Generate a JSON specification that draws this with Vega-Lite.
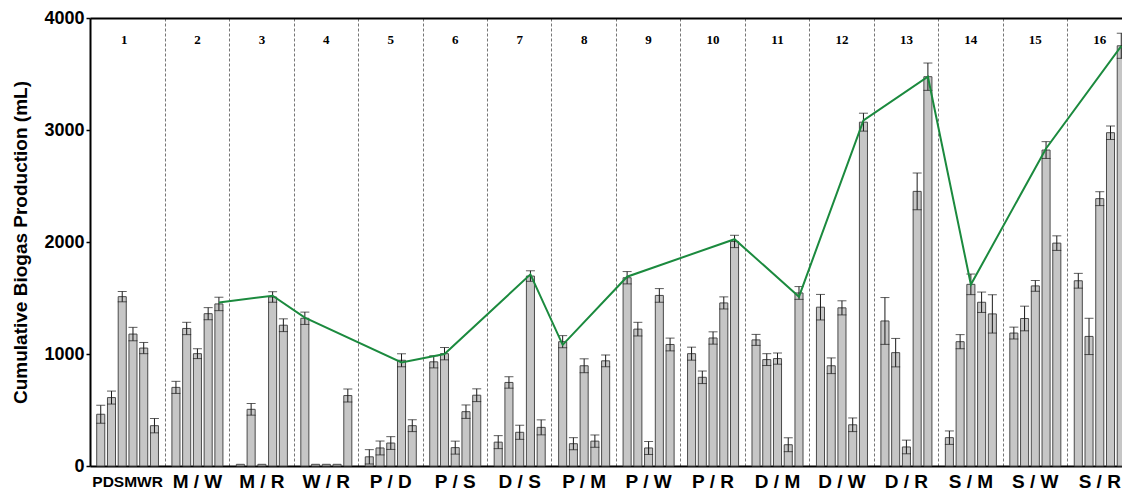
{
  "$schema": "https://vega.github.io/schema/vega-lite/v6.json",
  "width": 1032,
  "height": 448,
  "autosize": {"type": "none"},
  "padding": {"left": 90, "right": 0, "top": 18, "bottom": 27},
  "background": "white",
  "config": {"view": {"stroke": null}},
  "datasets": {
    "bars": [
      {"g":1,"cat":"1P","v":462,"e":80},{"g":1,"cat":"1D","v":611,"e":58},{"g":1,"cat":"1S","v":1512,"e":46},{"g":1,"cat":"1M","v":1178,"e":60},{"g":1,"cat":"1W","v":1053,"e":50},{"g":1,"cat":"1R","v":360,"e":64},
      {"g":2,"cat":"2-1","v":702,"e":54},{"g":2,"cat":"2-2","v":1228,"e":55},{"g":2,"cat":"2-3","v":1003,"e":44},{"g":2,"cat":"2-4","v":1360,"e":54},{"g":2,"cat":"2-5","v":1447,"e":60},
      {"g":3,"cat":"3-1","v":15,"e":0},{"g":3,"cat":"3-2","v":506,"e":52},{"g":3,"cat":"3-3","v":15,"e":0},{"g":3,"cat":"3-4","v":1509,"e":47},{"g":3,"cat":"3-5","v":1257,"e":57},
      {"g":4,"cat":"4-1","v":1319,"e":55},{"g":4,"cat":"4-2","v":15,"e":0},{"g":4,"cat":"4-3","v":15,"e":0},{"g":4,"cat":"4-4","v":15,"e":0},{"g":4,"cat":"4-5","v":629,"e":58},
      {"g":5,"cat":"5-1","v":82,"e":64},{"g":5,"cat":"5-2","v":161,"e":62},{"g":5,"cat":"5-3","v":205,"e":57},{"g":5,"cat":"5-4","v":944,"e":58},{"g":5,"cat":"5-5","v":360,"e":53},
      {"g":6,"cat":"6-1","v":930,"e":54},{"g":6,"cat":"6-2","v":1003,"e":55},{"g":6,"cat":"6-3","v":164,"e":58},{"g":6,"cat":"6-4","v":485,"e":60},{"g":6,"cat":"6-5","v":632,"e":57},
      {"g":7,"cat":"7-1","v":213,"e":58},{"g":7,"cat":"7-2","v":746,"e":51},{"g":7,"cat":"7-3","v":301,"e":63},{"g":7,"cat":"7-4","v":1696,"e":47},{"g":7,"cat":"7-5","v":345,"e":67},
      {"g":8,"cat":"8-1","v":1110,"e":54},{"g":8,"cat":"8-2","v":199,"e":54},{"g":8,"cat":"8-3","v":895,"e":62},{"g":8,"cat":"8-4","v":222,"e":55},{"g":8,"cat":"8-5","v":939,"e":53},
      {"g":9,"cat":"9-1","v":1681,"e":55},{"g":9,"cat":"9-2","v":1222,"e":61},{"g":9,"cat":"9-3","v":161,"e":58},{"g":9,"cat":"9-4","v":1523,"e":61},{"g":9,"cat":"9-5","v":1085,"e":57},
      {"g":10,"cat":"10-1","v":1003,"e":58},{"g":10,"cat":"10-2","v":792,"e":56},{"g":10,"cat":"10-3","v":1143,"e":55},{"g":10,"cat":"10-4","v":1456,"e":54},{"g":10,"cat":"10-5","v":2005,"e":55},
      {"g":11,"cat":"11-1","v":1126,"e":49},{"g":11,"cat":"11-2","v":950,"e":53},{"g":11,"cat":"11-3","v":959,"e":50},{"g":11,"cat":"11-4","v":190,"e":62},{"g":11,"cat":"11-5","v":1545,"e":57},
      {"g":12,"cat":"12-1","v":1418,"e":114},{"g":12,"cat":"12-2","v":895,"e":70},{"g":12,"cat":"12-3","v":1412,"e":63},{"g":12,"cat":"12-4","v":368,"e":61},{"g":12,"cat":"12-5","v":3070,"e":80},
      {"g":13,"cat":"13-1","v":1295,"e":209},{"g":13,"cat":"13-2","v":1012,"e":127},{"g":13,"cat":"13-3","v":170,"e":61},{"g":13,"cat":"13-4","v":2452,"e":164},{"g":13,"cat":"13-5","v":3476,"e":122},
      {"g":14,"cat":"14-1","v":253,"e":60},{"g":14,"cat":"14-2","v":1110,"e":63},{"g":14,"cat":"14-3","v":1622,"e":92},{"g":14,"cat":"14-4","v":1462,"e":91},{"g":14,"cat":"14-5","v":1358,"e":171},
      {"g":15,"cat":"15-1","v":1187,"e":53},{"g":15,"cat":"15-2","v":1317,"e":110},{"g":15,"cat":"15-3","v":1608,"e":48},{"g":15,"cat":"15-4","v":2821,"e":75},{"g":15,"cat":"15-5","v":1990,"e":65},
      {"g":16,"cat":"16-1","v":1654,"e":66},{"g":16,"cat":"16-2","v":1157,"e":162},{"g":16,"cat":"16-3","v":2387,"e":62},{"g":16,"cat":"16-4","v":2976,"e":60},{"g":16,"cat":"16-5","v":3752,"e":112}
    ],
    "line": [
      {"g":2,"cat":"2-5","v":1460},{"g":3,"cat":"3-4","v":1520},{"g":4,"cat":"4-1","v":1325},{"g":5,"cat":"5-4","v":925},
      {"g":6,"cat":"6-2","v":1000},{"g":7,"cat":"7-4","v":1711},{"g":8,"cat":"8-1","v":1082},{"g":9,"cat":"9-1","v":1690},
      {"g":10,"cat":"10-5","v":2025},{"g":11,"cat":"11-5","v":1512},{"g":12,"cat":"12-5","v":3085},{"g":13,"cat":"13-5","v":3476},
      {"g":14,"cat":"14-3","v":1620},{"g":15,"cat":"15-4","v":2835},{"g":16,"cat":"16-5","v":3750}
    ]
  },
  "resolve": {"axis": {"x": "independent"}},
  "layer": [
    {
      "data": {"name": "bars"},
      "mark": {"type": "bar", "fill": "#c6c6c6", "stroke": "#4a4a4a", "strokeWidth": 1},
      "encoding": {
        "x": {
          "field": "cat", "type": "nominal", "sort": null,
          "scale": {
            "domain": ["1P","1D","1S","1M","1W","1R","g1","2-1","2-2","2-3","2-4","2-5","g2","3-1","3-2","3-3","3-4","3-5","g3","4-1","4-2","4-3","4-4","4-5","g4","5-1","5-2","5-3","5-4","5-5","g5","6-1","6-2","6-3","6-4","6-5","g6","7-1","7-2","7-3","7-4","7-5","g7","8-1","8-2","8-3","8-4","8-5","g8","9-1","9-2","9-3","9-4","9-5","g9","10-1","10-2","10-3","10-4","10-5","g10","11-1","11-2","11-3","11-4","11-5","g11","12-1","12-2","12-3","12-4","12-5","g12","13-1","13-2","13-3","13-4","13-5","g13","14-1","14-2","14-3","14-4","14-5","g14","15-1","15-2","15-3","15-4","15-5","g15","16-1","16-2","16-3","16-4","16-5"],
            "range": [0, 1042], "paddingInner": 0.25, "paddingOuter": 0.625
          },
          "axis": {
            "orient": "bottom", "title": null, "ticks": false, "domain": true,
            "domainColor": "black", "domainWidth": 2,
            "labelExpr": "datum.value == '1S' ? 'PDSMWR' : (slice(datum.value, -2) == '-3' ? ['','','M / W','M / R','W / R','P / D','P / S','D / S','P / M','P / W','P / R','D / M','D / W','D / R','S / M','S / W','S / R'][toNumber(split(datum.value, '-')[0])] : '')",
            "labelAngle": 0, "labelFont": "Liberation Sans", "labelFontWeight": "bold",
            "labelFontSize": {"condition": {"test": "datum.value == '1S'", "value": 15.5}, "value": 19},
            "labelOffset": {"condition": {"test": "datum.value == '1S'", "value": 5.4}, "value": 0},
            "labelPadding": 15, "labelBaseline": "middle", "labelColor": "black",
            "labelOverlap": false, "labelBound": false,
            "grid": true, "gridColor": "#777777", "gridDash": [3, 2], "gridWidth": 1,
            "gridOpacity": {"condition": {"test": "indexof(datum.value, 'g') == 0", "value": 1}, "value": 0}
          }
        },
        "y": {
          "field": "v", "type": "quantitative",
          "scale": {"domain": [0, 4000], "nice": false},
          "axis": {
            "values": [0, 1000, 2000, 3000, 4000], "format": "d",
            "title": "Cumulative Biogas Production (mL)",
            "titleFont": "Liberation Sans", "titleFontSize": 19, "titleFontWeight": "bold", "titleColor": "black", "titlePadding": 13,
            "labelFont": "Liberation Sans", "labelFontSize": 18, "labelFontWeight": "bold", "labelColor": "black", "labelPadding": 2,
            "tickSize": 4, "tickColor": "black", "tickWidth": 1.5,
            "domainColor": "black", "domainWidth": 2, "grid": false
          }
        }
      }
    },
    {
      "data": {"name": "bars"},
      "transform": [{"filter": "datum.e > 0"}],
      "mark": {"type": "errorbar", "ticks": {"size": 9, "thickness": 1}, "rule": {"strokeWidth": 1}, "color": "#1a1a1a"},
      "encoding": {
        "x": {
          "field": "cat", "type": "nominal", "sort": null,
          "scale": {
            "domain": ["1P","1D","1S","1M","1W","1R","g1","2-1","2-2","2-3","2-4","2-5","g2","3-1","3-2","3-3","3-4","3-5","g3","4-1","4-2","4-3","4-4","4-5","g4","5-1","5-2","5-3","5-4","5-5","g5","6-1","6-2","6-3","6-4","6-5","g6","7-1","7-2","7-3","7-4","7-5","g7","8-1","8-2","8-3","8-4","8-5","g8","9-1","9-2","9-3","9-4","9-5","g9","10-1","10-2","10-3","10-4","10-5","g10","11-1","11-2","11-3","11-4","11-5","g11","12-1","12-2","12-3","12-4","12-5","g12","13-1","13-2","13-3","13-4","13-5","g13","14-1","14-2","14-3","14-4","14-5","g14","15-1","15-2","15-3","15-4","15-5","g15","16-1","16-2","16-3","16-4","16-5"],
            "range": [0, 1042], "paddingInner": 0.25, "paddingOuter": 0.625
          },
          "axis": null
        },
        "y": {"field": "v", "type": "quantitative", "scale": {"domain": [0, 4000], "nice": false}, "title": "Cumulative Biogas Production (mL)"},
        "yError": {"field": "e"}
      }
    },
    {
      "data": {"name": "line"},
      "mark": {"type": "line", "color": "#1b8a3e", "strokeWidth": 2},
      "encoding": {
        "x": {
          "field": "cat", "type": "nominal", "sort": null,
          "scale": {
            "domain": ["1P","1D","1S","1M","1W","1R","g1","2-1","2-2","2-3","2-4","2-5","g2","3-1","3-2","3-3","3-4","3-5","g3","4-1","4-2","4-3","4-4","4-5","g4","5-1","5-2","5-3","5-4","5-5","g5","6-1","6-2","6-3","6-4","6-5","g6","7-1","7-2","7-3","7-4","7-5","g7","8-1","8-2","8-3","8-4","8-5","g8","9-1","9-2","9-3","9-4","9-5","g9","10-1","10-2","10-3","10-4","10-5","g10","11-1","11-2","11-3","11-4","11-5","g11","12-1","12-2","12-3","12-4","12-5","g12","13-1","13-2","13-3","13-4","13-5","g13","14-1","14-2","14-3","14-4","14-5","g14","15-1","15-2","15-3","15-4","15-5","g15","16-1","16-2","16-3","16-4","16-5"],
            "range": [0, 1042], "paddingInner": 0.25, "paddingOuter": 0.625
          },
          "axis": {
            "orient": "top", "title": null, "ticks": false, "tickSize": 0, "domain": true,
            "domainColor": "black", "domainWidth": 2,
            "labelExpr": "datum.value == '1S' ? '1' : (slice(datum.value, -2) == '-3' ? split(datum.value, '-')[0] : '')",
            "labelAngle": 0, "labelFont": "Liberation Serif", "labelFontWeight": "bold", "labelFontSize": 13,
            "labelOffset": {"condition": {"test": "datum.value == '1S'", "value": 2}, "value": 0},
            "labelPadding": -21, "labelBaseline": "middle", "labelColor": "black",
            "labelOverlap": false, "labelBound": false, "grid": false
          }
        },
        "y": {"field": "v", "type": "quantitative", "scale": {"domain": [0, 4000], "nice": false}, "title": "Cumulative Biogas Production (mL)"},
        "order": {"field": "g", "type": "quantitative"}
      }
    }
  ]
}
